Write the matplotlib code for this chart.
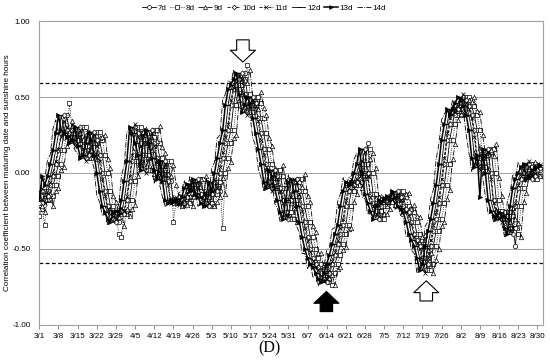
import matplotlib
matplotlib.use("Agg")
import matplotlib.pyplot as plt
from matplotlib.lines import Line2D
import numpy as np

plt.rcParams["font.family"] = ["Liberation Sans", "DejaVu Sans"]

# daily correlation values, 3/1 .. 8/31 (day index 0..183)
r7 = [-0.22, -0.20, -0.12, -0.18, -0.15, -0.08, -0.02, 0.06, 0.15, 0.26,
      0.38, 0.28, 0.26, 0.24, 0.20, 0.22, 0.30, 0.18, 0.10, 0.12,
      0.20, 0.27, 0.22, 0.12, 0.00, -0.12, -0.22, -0.26, -0.30, -0.32,
      -0.26, -0.25, -0.27, -0.18, -0.05, 0.08, 0.30, 0.26, 0.20, 0.12,
      0.02, 0.24, 0.28, 0.20, 0.10, 0.02, -0.04, 0.08, -0.05, -0.18,
      -0.20, -0.18, -0.19, -0.17, -0.20, -0.16, -0.10, -0.07, -0.12, -0.04,
      -0.14, -0.16, -0.20, -0.22, -0.14, -0.06, -0.12, 0.00, 0.10, 0.20,
      0.28, 0.45, 0.55, 0.58, 0.62, 0.66, 0.52, 0.40, 0.45, 0.50,
      0.46, 0.36, 0.26, 0.16, 0.06, -0.06, -0.10, 0.02, -0.02, -0.10,
      -0.18, -0.26, -0.30, -0.18, -0.06, -0.04, -0.12, -0.22, -0.32, -0.42,
      -0.50, -0.56, -0.60, -0.62, -0.66, -0.70, -0.72, -0.66, -0.60, -0.54,
      -0.47, -0.40, -0.34, -0.22, -0.12, -0.06, -0.08, -0.06, 0.00, 0.06,
      0.20, 0.00, -0.14, -0.20, -0.25, -0.30, -0.22, -0.18, -0.19, -0.17,
      -0.15, -0.18, -0.12, -0.16, -0.22, -0.24, -0.26, -0.32, -0.40, -0.44,
      -0.48, -0.56, -0.64, -0.60, -0.48, -0.38, -0.30, -0.20, -0.08, 0.06,
      0.22, 0.32, 0.42, 0.38, 0.42, 0.46, 0.50, 0.48, 0.44, 0.38,
      0.28, 0.10, 0.04, 0.12, 0.14, 0.16, 0.00, -0.18, -0.25, -0.28,
      -0.30, -0.26, -0.28, -0.36, -0.48, -0.22, -0.10, -0.04, 0.00, 0.04,
      0.06, -0.04, -0.02, 0.02]
r8 = [-0.28, -0.24, -0.34, -0.12, -0.18, -0.15, -0.08, -0.02, 0.06, 0.15,
      0.26, 0.46, 0.28, 0.26, 0.24, 0.20, 0.22, 0.30, 0.18, 0.10,
      0.12, 0.20, 0.27, 0.22, 0.12, 0.00, -0.12, -0.22, -0.26, -0.40,
      -0.42, -0.26, -0.25, -0.27, -0.18, -0.05, 0.08, 0.30, 0.26, 0.20,
      0.12, 0.02, 0.24, 0.28, 0.20, 0.10, 0.02, -0.04, 0.08, -0.32,
      -0.18, -0.20, -0.18, -0.19, -0.17, -0.20, -0.16, -0.10, -0.07, -0.12,
      -0.04, -0.14, -0.16, -0.20, -0.22, -0.14, -0.06, -0.36, 0.00, 0.10,
      0.20, 0.28, 0.45, 0.55, 0.58, 0.62, 0.71, 0.52, 0.40, 0.45,
      0.50, 0.46, 0.36, 0.26, 0.16, 0.06, -0.06, -0.10, 0.02, -0.02,
      -0.10, -0.18, -0.26, -0.30, -0.18, -0.06, -0.04, -0.12, -0.22, -0.32,
      -0.42, -0.50, -0.56, -0.60, -0.62, -0.66, -0.70, -0.74, -0.66, -0.60,
      -0.54, -0.47, -0.40, -0.34, -0.22, -0.12, -0.06, -0.08, -0.06, 0.00,
      0.06, 0.16, 0.00, -0.14, -0.20, -0.25, -0.30, -0.22, -0.18, -0.19,
      -0.17, -0.15, -0.18, -0.12, -0.16, -0.22, -0.24, -0.26, -0.32, -0.40,
      -0.44, -0.48, -0.56, -0.64, -0.60, -0.48, -0.38, -0.30, -0.20, -0.08,
      0.06, 0.22, 0.32, 0.42, 0.38, 0.42, 0.46, 0.50, 0.48, 0.44,
      0.38, 0.28, 0.10, 0.04, 0.12, 0.14, 0.16, 0.00, -0.18, -0.25,
      -0.28, -0.30, -0.26, -0.28, -0.36, -0.40, -0.22, -0.10, -0.04, 0.00,
      0.04, 0.06, -0.04, -0.02]
r9 = [-0.24, -0.22, -0.26, -0.17, -0.14, -0.22, -0.12, -0.10, 0.02, 0.04,
      0.18, 0.24, 0.34, 0.30, 0.22, 0.26, 0.17, 0.25, 0.27, 0.15,
      0.13, 0.09, 0.23, 0.24, 0.25, 0.09, 0.03, -0.15, -0.19, -0.29,
      -0.27, -0.35, -0.24, -0.28, -0.24, -0.21, -0.02, 0.05, 0.27, 0.29,
      0.17, 0.15, -0.01, 0.21, 0.31, 0.17, 0.13, -0.01, -0.02, 0.05,
      -0.08, -0.15, -0.22, -0.16, -0.21, -0.15, -0.22, -0.13, -0.12, -0.04,
      -0.15, -0.02, -0.16, -0.13, -0.22, -0.19, -0.16, -0.03, -0.14, 0.03,
      0.07, 0.23, 0.25, 0.48, 0.52, 0.61, 0.59, 0.68, 0.49, 0.43,
      0.42, 0.53, 0.43, 0.38, 0.23, 0.18, 0.03, -0.03, -0.12, 0.05,
      -0.05, -0.07, -0.20, -0.23, -0.32, -0.15, -0.09, -0.01, -0.15, -0.19,
      -0.35, -0.39, -0.53, -0.53, -0.63, -0.59, -0.69, -0.67, -0.74, -0.63,
      -0.62, -0.51, -0.49, -0.37, -0.36, -0.19, -0.14, -0.03, -0.10, -0.03,
      -0.02, 0.09, 0.13, 0.03, -0.16, -0.17, -0.27, -0.27, -0.24, -0.15,
      -0.21, -0.14, -0.17, -0.15, -0.14, -0.13, -0.24, -0.21, -0.28, -0.29,
      -0.42, -0.41, -0.51, -0.53, -0.66, -0.57, -0.50, -0.35, -0.32, -0.17,
      -0.11, 0.09, 0.19, 0.35, 0.39, 0.41, 0.39, 0.48, 0.47, 0.50,
      0.41, 0.40, 0.25, 0.13, 0.01, 0.15, 0.11, 0.19, -0.03, -0.15,
      -0.27, -0.25, -0.32, -0.23, -0.30, -0.33, -0.42, -0.19, -0.13, -0.01,
      -0.02, 0.07, 0.03, -0.02]
r10 = [-0.20, -0.12, -0.18, -0.15, -0.08, -0.02, 0.06, 0.15, 0.26, 0.38,
       0.28, 0.26, 0.24, 0.20, 0.22, 0.30, 0.18, 0.10, 0.12, 0.20,
       0.27, 0.22, 0.12, 0.00, -0.12, -0.22, -0.26, -0.30, -0.32, -0.26,
       -0.25, -0.27, -0.18, -0.05, 0.08, 0.30, 0.26, 0.20, 0.12, 0.02,
       0.24, 0.28, 0.20, 0.10, 0.02, -0.04, 0.08, -0.05, -0.18, -0.20,
       -0.18, -0.19, -0.17, -0.20, -0.16, -0.10, -0.07, -0.12, -0.04, -0.14,
       -0.16, -0.20, -0.22, -0.14, -0.06, -0.12, 0.00, 0.10, 0.20, 0.28,
       0.45, 0.55, 0.58, 0.62, 0.66, 0.52, 0.40, 0.45, 0.50, 0.46,
       0.36, 0.26, 0.16, 0.06, -0.06, -0.10, 0.02, -0.02, -0.10, -0.18,
       -0.26, -0.30, -0.18, -0.06, -0.04, -0.12, -0.22, -0.32, -0.42, -0.50,
       -0.56, -0.60, -0.62, -0.66, -0.70, -0.72, -0.66, -0.60, -0.54, -0.47,
       -0.40, -0.34, -0.22, -0.12, -0.06, -0.08, -0.06, 0.00, 0.06, 0.16,
       0.00, -0.14, -0.20, -0.25, -0.30, -0.22, -0.18, -0.19, -0.17, -0.15,
       -0.18, -0.12, -0.16, -0.22, -0.24, -0.26, -0.32, -0.40, -0.44, -0.48,
       -0.56, -0.64, -0.60, -0.48, -0.38, -0.30, -0.20, -0.08, 0.06, 0.22,
       0.32, 0.42, 0.38, 0.42, 0.46, 0.50, 0.48, 0.44, 0.38, 0.28,
       0.10, 0.04, 0.12, 0.14, 0.16, 0.00, -0.18, -0.25, -0.28, -0.30,
       -0.26, -0.28, -0.36, -0.40, -0.22, -0.10, -0.04, 0.00, 0.04, 0.06,
       -0.04, -0.02, 0.02, 0.03]
r11 = [-0.16, -0.10, -0.20, -0.13, -0.06, 0.00, 0.08, 0.16, 0.24, 0.34,
       0.30, 0.24, 0.22, 0.18, 0.24, 0.28, 0.16, 0.08, 0.14, 0.22,
       0.25, 0.18, 0.08, -0.04, -0.15, -0.24, -0.27, -0.28, -0.30, -0.24,
       -0.23, -0.25, -0.15, -0.02, 0.12, 0.32, 0.24, 0.18, 0.08, 0.00,
       0.22, 0.26, 0.18, 0.08, 0.00, -0.06, 0.06, -0.08, -0.20, -0.18,
       -0.16, -0.21, -0.15, -0.22, -0.14, -0.08, -0.05, -0.14, -0.06, -0.16,
       -0.18, -0.22, -0.20, -0.12, -0.04, -0.10, 0.04, 0.14, 0.24, 0.32,
       0.48, 0.56, 0.60, 0.64, 0.62, 0.50, 0.38, 0.44, 0.48, 0.44,
       0.34, 0.22, 0.12, 0.02, -0.08, -0.12, 0.00, -0.04, -0.12, -0.20,
       -0.28, -0.28, -0.16, -0.04, -0.06, -0.14, -0.25, -0.36, -0.45, -0.52,
       -0.58, -0.62, -0.64, -0.68, -0.71, -0.70, -0.64, -0.58, -0.52, -0.44,
       -0.36, -0.30, -0.18, -0.10, -0.04, -0.10, -0.04, 0.02, 0.08, 0.14,
       -0.02, -0.16, -0.22, -0.27, -0.28, -0.20, -0.16, -0.21, -0.15, -0.13,
       -0.20, -0.14, -0.18, -0.24, -0.26, -0.28, -0.34, -0.42, -0.46, -0.50,
       -0.58, -0.66, -0.56, -0.44, -0.34, -0.26, -0.16, -0.04, 0.10, 0.26,
       0.36, 0.44, 0.40, 0.44, 0.48, 0.52, 0.46, 0.42, 0.36, 0.24,
       0.06, 0.02, 0.10, 0.12, 0.14, -0.04, -0.20, -0.27, -0.30, -0.32,
       -0.28, -0.30, -0.38, -0.36, -0.20, -0.08, -0.02, 0.02, 0.06, 0.08,
       -0.02, 0.00, 0.04, 0.05]
r12 = [-0.12, -0.18, -0.15, -0.08, -0.02, 0.06, 0.15, 0.26, 0.38, 0.28,
       0.26, 0.24, 0.20, 0.22, 0.30, 0.18, 0.10, 0.12, 0.20, 0.27,
       0.22, 0.12, 0.00, -0.12, -0.22, -0.26, -0.30, -0.32, -0.26, -0.25,
       -0.27, -0.18, -0.05, 0.08, 0.30, 0.26, 0.20, 0.12, 0.02, 0.24,
       0.28, 0.20, 0.10, 0.02, -0.04, 0.08, -0.05, -0.18, -0.20, -0.18,
       -0.19, -0.17, -0.20, -0.16, -0.10, -0.07, -0.12, -0.04, -0.14, -0.16,
       -0.20, -0.22, -0.14, -0.06, -0.12, 0.00, 0.10, 0.20, 0.28, 0.45,
       0.55, 0.58, 0.62, 0.66, 0.52, 0.40, 0.45, 0.50, 0.46, 0.36,
       0.26, 0.16, 0.06, -0.06, -0.10, 0.02, -0.02, -0.10, -0.18, -0.26,
       -0.30, -0.18, -0.06, -0.04, -0.12, -0.22, -0.32, -0.42, -0.50, -0.56,
       -0.60, -0.62, -0.66, -0.70, -0.72, -0.66, -0.60, -0.54, -0.47, -0.40,
       -0.34, -0.22, -0.12, -0.06, -0.08, -0.06, 0.00, 0.06, 0.16, 0.00,
       -0.14, -0.20, -0.25, -0.30, -0.22, -0.18, -0.19, -0.17, -0.15, -0.18,
       -0.12, -0.16, -0.22, -0.24, -0.26, -0.32, -0.40, -0.44, -0.48, -0.56,
       -0.64, -0.60, -0.48, -0.38, -0.30, -0.20, -0.08, 0.06, 0.22, 0.32,
       0.42, 0.38, 0.42, 0.46, 0.50, 0.48, 0.44, 0.38, 0.28, 0.10,
       0.04, 0.12, 0.14, 0.16, 0.00, -0.18, -0.25, -0.28, -0.30, -0.26,
       -0.28, -0.36, -0.40, -0.22, -0.10, -0.04, 0.00, 0.04, 0.06, -0.04,
       -0.02, 0.02, 0.03, 0.04]
r13 = [-0.18, -0.02, -0.08, -0.02, 0.06, 0.15, 0.26, 0.38, 0.28, 0.26,
       0.24, 0.20, 0.22, 0.30, 0.18, 0.10, 0.12, 0.20, 0.27, 0.22,
       0.12, 0.00, -0.12, -0.22, -0.26, -0.30, -0.32, -0.26, -0.25, -0.27,
       -0.18, -0.05, 0.08, 0.30, 0.26, 0.20, 0.12, 0.02, 0.24, 0.28,
       0.20, 0.10, 0.02, -0.04, 0.08, -0.05, -0.18, -0.20, -0.18, -0.19,
       -0.17, -0.20, -0.16, -0.10, -0.07, -0.12, -0.04, -0.14, -0.16, -0.20,
       -0.22, -0.14, -0.06, -0.12, 0.00, 0.10, 0.20, 0.28, 0.45, 0.55,
       0.58, 0.62, 0.66, 0.52, 0.40, 0.45, 0.50, 0.46, 0.36, 0.26,
       0.16, 0.06, -0.06, -0.10, 0.02, -0.02, -0.10, -0.18, -0.26, -0.30,
       -0.18, -0.06, -0.04, -0.12, -0.22, -0.32, -0.42, -0.50, -0.56, -0.60,
       -0.62, -0.66, -0.70, -0.72, -0.66, -0.60, -0.54, -0.47, -0.40, -0.34,
       -0.22, -0.12, -0.06, -0.08, -0.06, 0.00, 0.06, 0.16, 0.00, -0.14,
       -0.20, -0.25, -0.30, -0.22, -0.18, -0.19, -0.17, -0.15, -0.18, -0.12,
       -0.16, -0.22, -0.24, -0.26, -0.32, -0.40, -0.44, -0.48, -0.56, -0.64,
       -0.60, -0.48, -0.38, -0.30, -0.20, -0.08, 0.06, 0.22, 0.32, 0.42,
       0.38, 0.42, 0.46, 0.50, 0.48, 0.44, 0.38, 0.28, 0.10, 0.04,
       0.12, -0.16, 0.16, 0.00, -0.18, -0.25, -0.28, -0.30, -0.26, -0.28,
       -0.36, -0.40, -0.22, -0.10, -0.04, 0.00, 0.04, 0.06, -0.04, -0.02,
       0.02, 0.03, 0.04, 0.05]
r14 = [-0.17, -0.05, -0.04, 0.09, 0.12, 0.29, 0.35, 0.25, 0.28, 0.21,
       0.23, 0.19, 0.32, 0.15, 0.13, 0.09, 0.23, 0.24, 0.25, 0.09,
       0.03, -0.15, -0.19, -0.28, -0.27, -0.34, -0.23, -0.27, -0.25, -0.21,
       -0.02, 0.05, 0.27, 0.28, 0.17, 0.14, -0.01, 0.26, 0.25, 0.22,
       0.07, 0.04, -0.07, 0.10, -0.08, -0.16, -0.22, -0.16, -0.21, -0.15,
       -0.22, -0.13, -0.12, -0.05, -0.14, -0.02, -0.16, -0.13, -0.22, -0.19,
       -0.16, -0.03, -0.14, 0.03, 0.07, 0.23, 0.25, 0.48, 0.52, 0.61,
       0.59, 0.68, 0.49, 0.43, 0.42, 0.53, 0.43, 0.38, 0.23, 0.18,
       0.03, -0.03, -0.12, 0.05, -0.05, -0.07, -0.20, -0.23, -0.32, -0.15,
       -0.09, -0.01, -0.15, -0.19, -0.35, -0.39, -0.53, -0.53, -0.63, -0.59,
       -0.69, -0.67, -0.74, -0.63, -0.62, -0.51, -0.49, -0.37, -0.36, -0.19,
       -0.14, -0.03, -0.10, -0.03, -0.02, 0.09, 0.13, 0.03, -0.16, -0.17,
       -0.27, -0.27, -0.24, -0.15, -0.21, -0.14, -0.17, -0.15, -0.14, -0.13,
       -0.24, -0.21, -0.28, -0.29, -0.42, -0.41, -0.51, -0.53, -0.66, -0.57,
       -0.50, -0.35, -0.32, -0.17, -0.11, 0.09, 0.19, 0.35, 0.39, 0.41,
       0.39, 0.48, 0.47, 0.50, 0.41, 0.40, 0.25, 0.13, 0.01, 0.15,
       0.11, 0.19, -0.03, -0.15, -0.27, -0.25, -0.32, -0.23, -0.30, -0.33,
       -0.42, -0.19, -0.13, -0.01, -0.02, 0.07, 0.03, -0.02, 0.00, 0.04,
       0.03, 0.05, 0.04, 0.07]

series_names = ["7d", "8d", "9d", "10d", "11d", "12d", "13d", "14d"]
series_values = [r7, r8, r9, r10, r11, r12, r13, r14]

tick_days = list(range(0, 183, 7))
tick_labels = ["3/1", "3/8", "3/15", "3/22", "3/29", "4/5", "4/12", "4/19",
               "4/26", "5/3", "5/10", "5/17", "5/24", "5/31", "6/7", "6/14",
               "6/21", "6/28", "7/5", "7/12", "7/19", "7/26", "8/2", "8/9",
               "8/16", "8/23", "8/30"]

threshold = 0.59
# arrows: (day, tip value, direction, face colour)
arrow_days = [74.4, 104.9, 141.4]
arrow_tips = [0.73, -0.78, -0.71]
arrow_dirs = ["down", "up", "up"]
arrow_faces = ["white", "black", "white"]

STYLES = {
    "7d": dict(ls="-", marker="o", mfc="white", ms=3.2),
    "8d": dict(ls=":", marker="s", mfc="white", ms=3.2),
    "9d": dict(ls="-.", marker="^", mfc="white", ms=3.2),
    "10d": dict(ls="--", marker="D", mfc="white", ms=2.6),
    "11d": dict(ls="--", marker="x", mfc="black", ms=3.0),
    "12d": dict(ls="-", marker="_", mfc="black", ms=3.0),
    "13d": dict(ls="-", marker=">", mfc="black", ms=3.0, lw=1.1),
    "14d": dict(ls="-.", marker=None, mfc="black", ms=0),
}

fig = plt.figure(figsize=(5.5, 3.63), dpi=100)
ax = fig.add_axes([0.0715, 0.105, 0.9155, 0.837])

days = np.arange(len(r10))
for name, vals in zip(series_names, series_values):
    st = dict(STYLES[name])
    lw = st.pop("lw", 0.6)
    ax.plot(days, vals, color="black", lw=lw, mec="black", mew=0.5,
            zorder=3, **st)

for yv in (0.5, 0.0, -0.5):
    ax.axhline(yv, color="#a6a6a6", lw=0.8, zorder=1)
for yv in (threshold, -threshold):
    ax.axhline(yv, color="black", lw=0.9, ls=(0, (3, 2)), zorder=2)

for d, tip, direc, fc in zip(arrow_days, arrow_tips, arrow_dirs, arrow_faces):
    off = 16 if direc == "down" else -14.5
    ax.annotate("", xy=(d, tip), xytext=(0, off), textcoords="offset points",
                arrowprops=dict(arrowstyle="simple,head_width=1.8,head_length=0.85,tail_width=0.9",
                                fc=fc, ec="black", lw=0.8, shrinkA=0, shrinkB=0,
                                mutation_scale=10),
                zorder=5)

ax.set_xlim(0, 184)
ax.set_ylim(-1.0, 1.0)
ax.set_xticks(tick_days)
ax.set_xticklabels(tick_labels, fontsize=5.8)
ax.set_yticks([1.0, 0.5, 0.0, -0.5, -1.0])
ax.set_yticklabels(["1.00", "0.50", "0.00", "-0.50", "-1.00"], fontsize=5.8)
ax.tick_params(axis="x", length=3, width=0.6, color="#808080", pad=2.5)
ax.tick_params(axis="y", length=0, pad=6.5)
for sp in ax.spines.values():
    sp.set_color("#a0a0a0")
    sp.set_linewidth(0.8)

ax.set_ylabel("Correlation coefficient between maturing date and sunshine hours",
              fontsize=5.9)
ax.yaxis.set_label_coords(-0.056, 0.5)

handles = []
for name in series_names:
    st = dict(STYLES[name])
    lw = st.pop("lw", 0.6)
    handles.append(Line2D([], [], color="black", lw=lw, mec="black", mew=0.5, **st))
fig.legend(handles, series_names, loc="center", bbox_to_anchor=(0.48, 0.978),
           ncol=8, frameon=False, fontsize=5.8, handlelength=1.7,
           handletextpad=0.2, columnspacing=0.5, markerscale=0.9)

fig.text(0.49, 0.04, "(D)", ha="center", va="center", fontsize=11.5,
         family=["Liberation Serif", "DejaVu Serif"])

fig.savefig("out.png", dpi=100)
